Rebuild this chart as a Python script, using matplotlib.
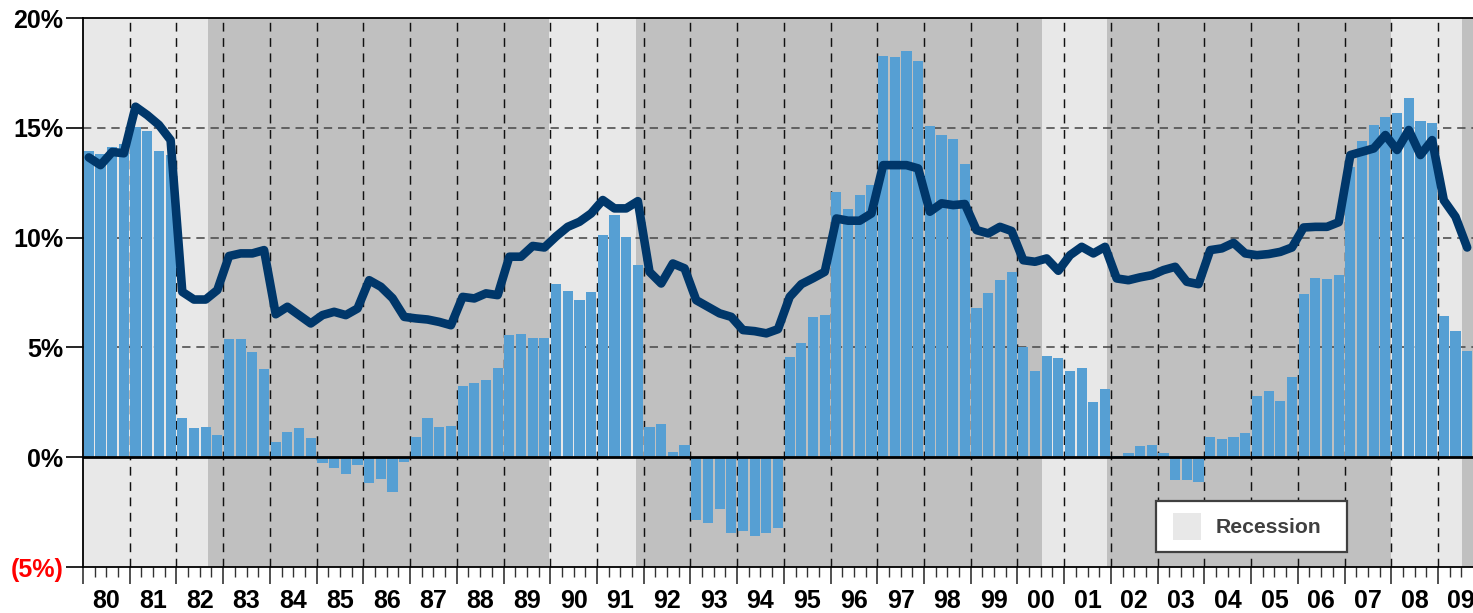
import numpy as np
import matplotlib
matplotlib.use("Agg")
import matplotlib.pyplot as plt
from matplotlib.patches import Rectangle
import matplotlib.transforms as mtransforms

plt.rcParams['font.family'] = ['Liberation Sans', 'DejaVu Sans']

# ---------------- data ----------------
years = ['80', '81', '82', '83', '84', '85', '86', '87', '88', '89',
         '90', '91', '92', '93', '94', '95', '96', '97', '98', '99',
         '00', '01', '02', '03', '04', '05', '06', '07', '08', '09']

# quarterly bar series (%), 1980Q1 - 2009Q3
bar_values = [
    13.94, 13.80, 14.14, 14.26,
    15.05, 14.85, 13.94, 13.76,
    1.78, 1.32, 1.37, 1.00,
    5.38, 5.38, 4.78, 4.00,
    0.68, 1.14, 1.32, 0.87,
    -0.26, -0.50, -0.77, -0.36,
    -1.17, -0.99, -1.58, -0.21,
    0.91, 1.78, 1.37, 1.41,
    3.23, 3.37, 3.51, 4.05,
    5.56, 5.60, 5.42, 5.42,
    7.88, 7.56, 7.15, 7.52,
    10.11, 11.03, 10.02, 8.75,
    1.37, 1.50, 0.23, 0.55,
    -2.86, -2.99, -2.35, -3.45,
    -3.36, -3.58, -3.45, -3.22,
    4.56, 5.19, 6.38, 6.47,
    12.07, 11.30, 11.94, 12.39,
    18.27, 18.22, 18.50, 18.04,
    15.08, 14.67, 14.49, 13.35,
    6.79, 7.47, 8.06, 8.43,
    5.01, 3.92, 4.60, 4.51,
    3.92, 4.05, 2.50, 3.10,
    0.05, 0.18, 0.50, 0.55,
    0.18, -1.05, -1.05, -1.14,
    0.91, 0.82, 0.91, 1.09,
    2.78, 3.01, 2.55, 3.64,
    7.43, 8.15, 8.11, 8.29,
    13.23, 14.40, 15.13, 15.48,
    15.66, 16.36, 15.31, 15.20,
    6.42, 5.74, 4.83,
]

# quarterly line series (%)
line_values = [
    13.65, 13.30, 13.90, 13.84,
    15.96, 15.58, 15.13, 14.44,
    7.53, 7.18, 7.18, 7.61,
    9.16, 9.28, 9.28, 9.43,
    6.51, 6.85, 6.47, 6.09,
    6.47, 6.62, 6.47, 6.77,
    8.06, 7.76, 7.24, 6.39,
    6.32, 6.27, 6.16, 6.01,
    7.30, 7.23, 7.46, 7.38,
    9.13, 9.13, 9.62, 9.55,
    10.05, 10.49, 10.72, 11.10,
    11.71, 11.33, 11.33, 11.66,
    8.44, 7.91, 8.82, 8.60,
    7.15, 6.85, 6.55, 6.39,
    5.79, 5.74, 5.64, 5.83,
    7.30, 7.88, 8.15, 8.44,
    10.87, 10.77, 10.77, 11.10,
    13.30, 13.30, 13.30, 13.15,
    11.18, 11.56, 11.48, 11.53,
    10.34, 10.19, 10.49, 10.30,
    8.97, 8.90, 9.05, 8.49,
    9.20, 9.58, 9.28, 9.58,
    8.14, 8.06, 8.19, 8.29,
    8.52, 8.67, 7.99, 7.88,
    9.43, 9.51, 9.76, 9.28,
    9.20, 9.25, 9.35, 9.55,
    10.46, 10.49, 10.49, 10.70,
    13.76, 13.91, 14.06, 14.67,
    13.99, 14.90, 13.76, 14.44,
    11.70, 10.95, 9.55,
]

# recession shading periods (decimal years)
recession_start = [1980.00, 1989.98, 2000.53, 2008.00]
recession_end = [1982.68, 1991.84, 2001.92, 2009.52]

y_ticks = [-5, 0, 5, 10, 15, 20]
y_tick_labels = ['(5%)', '0%', '5%', '10%', '15%', '20%']
legend_label = 'Recession'

# ---------------- styling ----------------
W, H = 1473, 613
fig = plt.figure(figsize=(W / 100, H / 100), dpi=100)
ax = fig.add_axes([83 / W, 46 / H, 1390 / W, 549 / H])

DARK_BG = '#C0C0C0'
LIGHT_BG = '#E8E8E8'
BAR_C = '#569FD3'
LINE_C = '#00376A'

n = len(bar_values)
xq = np.arange(n) + 0.5
ax.set_xlim(0, n)
ax.set_ylim(-5, 20)
ax.set_facecolor(DARK_BG)

for s, e in zip(recession_start, recession_end):
    ax.axvspan((s - 1980) * 4, (e - 1980) * 4, color=LIGHT_BG, lw=0, zorder=0.5)

# grid
for yv in [5, 10, 15]:
    ax.axhline(yv, color='#505050', lw=1.2, dashes=(5, 3.5), zorder=1)
for k in range(1, len(years)):
    ax.axvline(4 * k, color='#111111', lw=1.05, dashes=(6, 4.5), zorder=1)

ax.bar(xq, bar_values, width=0.87, color=BAR_C, zorder=3)
ax.axhline(0, color='black', lw=2.0, zorder=3.5)
ax.plot(xq, line_values, color=LINE_C, lw=6.2, solid_joinstyle='round',
        solid_capstyle='round', zorder=5)

# spines
for sp in ['left', 'bottom', 'top']:
    ax.spines[sp].set_color('black')
    ax.spines[sp].set_linewidth(1.3)
ax.spines['right'].set_visible(False)

# y ticks
ax.set_yticks(y_ticks)
ax.set_yticklabels(y_tick_labels, fontsize=18, fontweight='bold')
ax.tick_params(axis='y', length=12.5, width=1.2, pad=1.5, colors='black')
ax.get_yticklabels()[0].set_color('#FF0000')

# x ticks
ax.set_xticks(np.arange(0, n, 4))
ax.set_xticklabels([])
ax.set_xticks(np.arange(0, n), minor=True)
ax.tick_params(axis='x', which='major', length=12.5, width=1.2, color='#333333')
ax.tick_params(axis='x', which='minor', length=7.3, width=1.0, color='#333333')

trans = mtransforms.blended_transform_factory(ax.transData, ax.transAxes)
for k, lab in enumerate(years):
    ax.text(4 * k + 2, -34 / 549, lab, transform=trans, ha='center', va='center',
            fontsize=18, fontweight='bold', clip_on=False)

# legend (box drawn in axes coordinates)
ax.add_patch(Rectangle((0.7717, 0.0273), 0.9094 - 0.7717, 0.1208 - 0.0273,
                       transform=ax.transAxes, facecolor='white', edgecolor='#404040',
                       lw=1.6, zorder=10))
ax.add_patch(Rectangle((0.7840, 0.0492), 0.8044 - 0.7840, 0.0989 - 0.0492,
                       transform=ax.transAxes, facecolor=LIGHT_BG, edgecolor='none',
                       zorder=11))
ax.text(0.8151, 0.0614, legend_label, transform=ax.transAxes, ha='left', va='baseline',
        fontsize=15.2, fontweight='bold', color='#404040', zorder=12)

fig.savefig('out.png', dpi=100)
